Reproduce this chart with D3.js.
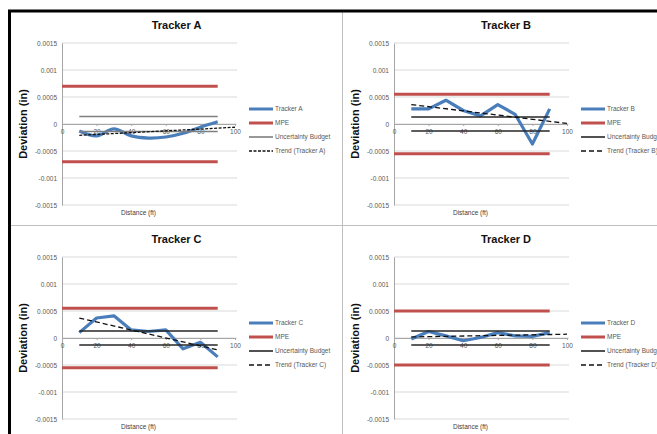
<!DOCTYPE html>
<html>
<head>
<meta charset="utf-8">
<script src="https://cdn.jsdelivr.net/npm/d3@7"></script>
<style>
  body { margin: 0; background: #fff; }
  svg { display: block; font-family: "Liberation Sans", Arial, sans-serif; }
</style>
</head>
<body>
<div id="chart"></div>
<script>
// Data
const distances = [10, 20, 30, 40, 50, 60, 70, 80, 90];
const trackerA = [-0.00013, -0.00022, -0.00009, -0.00022, -0.00026, -0.00024, -0.00017, -0.00006, 0.00004];
const trackerB = [0.00028, 0.00028, 0.00044, 0.00025, 0.00015, 0.00036, 0.00018, -0.00037, 0.00028];
const trackerC = [0.0001, 0.00037, 0.00041, 0.00015, 0.00012, 0.00015, -0.0002, -0.00008, -0.00035];
const trackerD = [-0.00002, 0.00012, 0.00004, -0.00005, 0.00001, 0.0001, 0.00004, 0.00003, 0.0001];

const trackerNames = ["Tracker A", "Tracker B", "Tracker C", "Tracker D"];
const mpeLimits = [0.0007, 0.00055, 0.00055, 0.0005];
const uncertaintyBudget = [0.00014, 0.00013, 0.00013, 0.00013];

// trendline end points [distance, deviation]
const trendA = [[10, -0.00021], [100, -0.00006]];
const trendB = [[10, 0.00036], [100, 0.00001]];
const trendC = [[10, 0.00037], [90, -0.00022]];
const trendD = [[10, 0.00002], [100, 0.00007]];

const yTicks = [-0.0015, -0.001, -0.0005, 0, 0.0005, 0.001, 0.0015];
const xTicks = [0, 20, 40, 60, 80, 100];

const panels = [
    { name: trackerNames[0], values: trackerA, trend: trendA, mpe: mpeLimits[0], unc: uncertaintyBudget[0], x: 11, y: 12, w: 331, smooth: true, uncColor: "#7f7f7f", dash: "3,1.5" },
    { name: trackerNames[1], values: trackerB, trend: trendB, mpe: mpeLimits[1], unc: uncertaintyBudget[1], x: 343, y: 12, w: 326, smooth: false, uncColor: "#262626", dash: "5,3" },
    { name: trackerNames[2], values: trackerC, trend: trendC, mpe: mpeLimits[2], unc: uncertaintyBudget[2], x: 11, y: 226, w: 331, smooth: false, uncColor: "#262626", dash: "5,3" },
    { name: trackerNames[3], values: trackerD, trend: trendD, mpe: mpeLimits[3], unc: uncertaintyBudget[3], x: 343, y: 226, w: 326, smooth: false, uncColor: "#262626", dash: "5,3" }
];

const W = 657, H = 434;
const panelH = 213;

const svg = d3.select("#chart")
    .append("svg")
    .attr("width", W)
    .attr("height", H);

// plot area inside each panel
const plot = { left: 51, top: 31, width: 173, height: 162 };

const x = d3.scaleLinear().domain([0, 100]).range([0, plot.width]);
const y = d3.scaleLinear().domain([-0.0015, 0.0015]).range([plot.height, 0]);

const blue = "#4a7ebb";
const red = "#c0504d";

panels.forEach((p, i) => {
    svg.append("clipPath")
        .attr("id", "clip" + i)
        .append("rect")
        .attr("width", p.w)
        .attr("height", panelH);

    const panel = svg.append("g")
        .attr("transform", `translate(${p.x},${p.y})`)
        .attr("clip-path", `url(#clip${i})`);

    // Title
    panel.append("text")
        .attr("x", p.w / 2)
        .attr("y", 17)
        .attr("text-anchor", "middle")
        .attr("font-size", 11)
        .attr("font-weight", "bold")
        .attr("fill", "#111")
        .text(p.name);

    // Y label
    panel.append("text")
        .attr("transform", `translate(16,${plot.top + plot.height / 2}) rotate(-90)`)
        .attr("text-anchor", "middle")
        .attr("font-size", 11)
        .attr("font-weight", "bold")
        .attr("fill", "#111")
        .text("Deviation (in)");

    // X label
    panel.append("text")
        .attr("x", plot.left + plot.width / 2 - 10)
        .attr("y", plot.top + plot.height + 10)
        .attr("text-anchor", "middle")
        .attr("font-size", 6.5)
        .attr("fill", "#404040")
        .text("Distance (ft)");

    const g = panel.append("g")
        .attr("transform", `translate(${plot.left},${plot.top})`);

    // gridlines
    g.append("g")
        .selectAll("line")
        .data(yTicks)
        .enter()
        .append("line")
        .attr("x1", 0)
        .attr("x2", plot.width + 2)
        .attr("y1", d => y(d))
        .attr("y2", d => y(d))
        .attr("stroke", "#d9d9d9")
        .attr("stroke-width", 1);

    // Y axis
    const yAxis = g.append("g")
        .call(d3.axisLeft(y)
            .tickValues(yTicks)
            .tickSize(0)
            .tickPadding(5)
            .tickFormat(d => String(d)));
    yAxis.select(".domain").attr("stroke", "#a6a6a6");
    yAxis.selectAll("text")
        .attr("font-size", 6.5)
        .attr("fill", "#595959")
        .attr("font-family", "Liberation Sans, Arial, sans-serif");

    // X axis at zero
    const xAxis = g.append("g")
        .attr("transform", `translate(0,${y(0)})`)
        .call(d3.axisBottom(x)
            .tickValues(xTicks)
            .tickSize(2)
            .tickPadding(3));
    xAxis.select(".domain").attr("stroke", "#a6a6a6");
    xAxis.selectAll(".tick line").attr("stroke", "#a6a6a6");
    xAxis.selectAll("text")
        .attr("font-size", 6.5)
        .attr("fill", "#595959")
        .attr("font-family", "Liberation Sans, Arial, sans-serif");

    const line = d3.line()
        .x(d => x(d[0]))
        .y(d => y(d[1]))
        .curve(p.smooth ? d3.curveCatmullRom : d3.curveLinear);

    // Tracker
    g.append("path")
        .datum(distances.map((d, k) => [d, p.values[k]]))
        .attr("d", line)
        .attr("fill", "none")
        .attr("stroke", blue)
        .attr("stroke-width", 3.2)
        .attr("stroke-linejoin", "round");

    // MPE
    [p.mpe, -p.mpe].forEach(v => {
        g.append("path")
            .datum([[0, v], [90, v]])
            .attr("d", d3.line().x(d => x(d[0])).y(d => y(d[1])))
            .attr("fill", "none")
            .attr("stroke", red)
            .attr("stroke-width", 3);
    });

    // Uncertainty budget
    [p.unc, -p.unc].forEach(v => {
        g.append("path")
            .datum([[10, v], [90, v]])
            .attr("d", d3.line().x(d => x(d[0])).y(d => y(d[1])))
            .attr("fill", "none")
            .attr("stroke", p.uncColor)
            .attr("stroke-width", 1.6);
    });

    // Trend
    g.append("path")
        .datum(p.trend)
        .attr("d", d3.line().x(d => x(d[0])).y(d => y(d[1])))
        .attr("fill", "none")
        .attr("stroke", "#111")
        .attr("stroke-width", 1.3)
        .attr("stroke-dasharray", p.dash);

    // Legend (clipped at the panel edge, as in the original)
    const legendItems = [
        { label: p.name, color: blue, width: 3, dash: null },
        { label: "MPE", color: red, width: 3, dash: null },
        { label: "Uncertainty Budget", color: p.uncColor, width: 1.6, dash: null },
        { label: "Trend (" + p.name + ")", color: "#111", width: 1.3, dash: p.dash }
    ];
    const legend = panel.append("g")
        .attr("transform", "translate(238,97)");
    legendItems.forEach((it, k) => {
        legend.append("line")
            .attr("x1", 0)
            .attr("x2", 24)
            .attr("y1", k * 14)
            .attr("y2", k * 14)
            .attr("stroke", it.color)
            .attr("stroke-width", it.width)
            .attr("stroke-dasharray", it.dash);
        legend.append("text")
            .attr("x", 26)
            .attr("y", k * 14 + 2.2)
            .attr("font-size", 6.5)
            .attr("fill", "#595959")
            .text(it.label);
    });
});

// panel separators
svg.append("line")
    .attr("x1", 342.5).attr("x2", 342.5)
    .attr("y1", 12).attr("y2", H)
    .attr("stroke", "#bfbfbf");
svg.append("line")
    .attr("x1", 11).attr("x2", W)
    .attr("y1", 225.5).attr("y2", 225.5)
    .attr("stroke", "#bfbfbf");

// black outer frame (top and left)
svg.append("line")
    .attr("x1", 8).attr("x2", W)
    .attr("y1", 11).attr("y2", 11)
    .attr("stroke", "#000")
    .attr("stroke-width", 3);
svg.append("line")
    .attr("x1", 9.5).attr("x2", 9.5)
    .attr("y1", 10).attr("y2", H)
    .attr("stroke", "#000")
    .attr("stroke-width", 3);
</script>
</body>
</html>
